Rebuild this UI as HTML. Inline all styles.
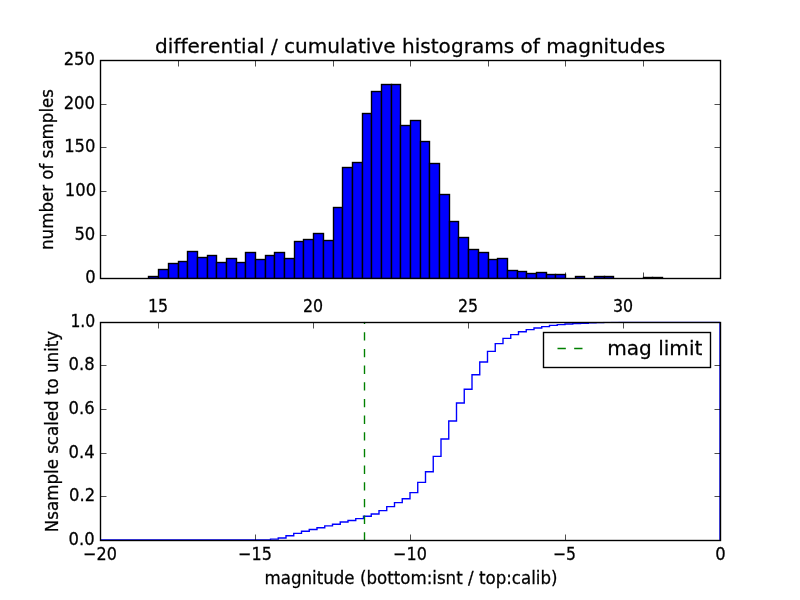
<!DOCTYPE html>
<html><head><meta charset="utf-8"><title>differential / cumulative histograms of magnitudes</title>
<style>html,body{margin:0;padding:0;background:#fff;overflow:hidden}svg{display:block}text{font-family:"DejaVu Sans","Liberation Sans",sans-serif;fill:#000;stroke:#000;stroke-width:0.25px;font-variant-ligatures:none;font-kerning:none}</style></head><body>
<svg width="800" height="600" viewBox="0 0 800 600">
<rect width="800" height="600" fill="#fff"/>
<defs><clipPath id="c1"><rect x="100" y="60" width="620" height="218.18"/></clipPath><clipPath id="c2"><rect x="100" y="321.82" width="620" height="218.18"/></clipPath></defs>
<g clip-path="url(#c1)" fill="#0000ff" stroke="#000" stroke-width="1.389" stroke-linejoin="miter">
<rect x="148.5" y="276.5" width="10.0" height="2.0"/>
<rect x="158.5" y="269.5" width="10.0" height="9.0"/>
<rect x="168.5" y="263.5" width="10.0" height="15.0"/>
<rect x="178.5" y="261.5" width="9.0" height="17.0"/>
<rect x="187.5" y="251.5" width="10.0" height="27.0"/>
<rect x="197.5" y="257.5" width="10.0" height="21.0"/>
<rect x="207.5" y="255.5" width="9.0" height="23.0"/>
<rect x="216.5" y="262.5" width="10.0" height="16.0"/>
<rect x="226.5" y="258.5" width="10.0" height="20.0"/>
<rect x="236.5" y="262.5" width="9.0" height="16.0"/>
<rect x="245.5" y="252.5" width="10.0" height="26.0"/>
<rect x="255.5" y="259.5" width="10.0" height="19.0"/>
<rect x="265.5" y="255.5" width="9.0" height="23.0"/>
<rect x="274.5" y="252.5" width="10.0" height="26.0"/>
<rect x="284.5" y="258.5" width="10.0" height="20.0"/>
<rect x="294.5" y="241.5" width="9.0" height="37.0"/>
<rect x="303.5" y="239.5" width="10.0" height="39.0"/>
<rect x="313.5" y="233.5" width="10.0" height="45.0"/>
<rect x="323.5" y="240.5" width="10.0" height="38.0"/>
<rect x="333.5" y="207.5" width="9.0" height="71.0"/>
<rect x="342.5" y="167.5" width="10.0" height="111.0"/>
<rect x="352.5" y="162.5" width="10.0" height="116.0"/>
<rect x="362.5" y="113.5" width="9.0" height="165.0"/>
<rect x="371.5" y="91.5" width="10.0" height="187.0"/>
<rect x="381.5" y="84.5" width="10.0" height="194.0"/>
<rect x="391.5" y="84.5" width="9.0" height="194.0"/>
<rect x="400.5" y="125.5" width="10.0" height="153.0"/>
<rect x="410.5" y="120.5" width="10.0" height="158.0"/>
<rect x="420.5" y="141.5" width="9.0" height="137.0"/>
<rect x="429.5" y="163.5" width="10.0" height="115.0"/>
<rect x="439.5" y="194.5" width="10.0" height="84.0"/>
<rect x="449.5" y="221.5" width="9.0" height="57.0"/>
<rect x="458.5" y="237.5" width="10.0" height="41.0"/>
<rect x="468.5" y="249.5" width="10.0" height="29.0"/>
<rect x="478.5" y="252.5" width="10.0" height="26.0"/>
<rect x="488.5" y="259.5" width="9.0" height="19.0"/>
<rect x="497.5" y="258.5" width="10.0" height="20.0"/>
<rect x="507.5" y="270.5" width="10.0" height="8.0"/>
<rect x="517.5" y="271.5" width="9.0" height="7.0"/>
<rect x="526.5" y="273.5" width="10.0" height="5.0"/>
<rect x="536.5" y="272.5" width="10.0" height="6.0"/>
<rect x="546.5" y="274.5" width="9.0" height="4.0"/>
<rect x="555.5" y="274.5" width="10.0" height="4.0"/>
<rect x="575.5" y="276.5" width="9.0" height="2.0"/>
<rect x="594.5" y="276.5" width="10.0" height="2.0"/>
<rect x="604.5" y="276.5" width="9.0" height="2.0"/>
<rect x="643.5" y="277.5" width="9.0" height="1.0"/>
<rect x="652.5" y="277.5" width="10.0" height="1.0"/>
</g>
<g stroke="#000" stroke-width="0.694">
<line x1="100.5" y1="60.5" x2="100.5" y2="66.5"/>
<line x1="100.5" y1="278.5" x2="100.5" y2="272.5"/>
<line x1="178.5" y1="60.5" x2="178.5" y2="66.5"/>
<line x1="178.5" y1="278.5" x2="178.5" y2="272.5"/>
<line x1="255.5" y1="60.5" x2="255.5" y2="66.5"/>
<line x1="255.5" y1="278.5" x2="255.5" y2="272.5"/>
<line x1="333.5" y1="60.5" x2="333.5" y2="66.5"/>
<line x1="333.5" y1="278.5" x2="333.5" y2="272.5"/>
<line x1="410.5" y1="60.5" x2="410.5" y2="66.5"/>
<line x1="410.5" y1="278.5" x2="410.5" y2="272.5"/>
<line x1="488.5" y1="60.5" x2="488.5" y2="66.5"/>
<line x1="488.5" y1="278.5" x2="488.5" y2="272.5"/>
<line x1="565.5" y1="60.5" x2="565.5" y2="66.5"/>
<line x1="565.5" y1="278.5" x2="565.5" y2="272.5"/>
<line x1="643.5" y1="60.5" x2="643.5" y2="66.5"/>
<line x1="643.5" y1="278.5" x2="643.5" y2="272.5"/>
<line x1="720.5" y1="60.5" x2="720.5" y2="66.5"/>
<line x1="720.5" y1="278.5" x2="720.5" y2="272.5"/>
<line x1="100.5" y1="278.5" x2="106.5" y2="278.5"/>
<line x1="720.5" y1="278.5" x2="714.5" y2="278.5"/>
<line x1="100.5" y1="235.5" x2="106.5" y2="235.5"/>
<line x1="720.5" y1="235.5" x2="714.5" y2="235.5"/>
<line x1="100.5" y1="191.5" x2="106.5" y2="191.5"/>
<line x1="720.5" y1="191.5" x2="714.5" y2="191.5"/>
<line x1="100.5" y1="147.5" x2="106.5" y2="147.5"/>
<line x1="720.5" y1="147.5" x2="714.5" y2="147.5"/>
<line x1="100.5" y1="104.5" x2="106.5" y2="104.5"/>
<line x1="720.5" y1="104.5" x2="714.5" y2="104.5"/>
<line x1="100.5" y1="60.5" x2="106.5" y2="60.5"/>
<line x1="720.5" y1="60.5" x2="714.5" y2="60.5"/>
</g>
<rect x="100.5" y="60.5" width="620.0" height="218.0" fill="none" stroke="#000" stroke-width="1.389"/>
<path clip-path="url(#c2)" d="M100.00 540.00 L100.00 540.00 L107.75 540.00 L107.75 540.00 L115.50 540.00 L115.50 540.00 L123.25 540.00 L123.25 540.00 L131.00 540.00 L131.00 540.00 L138.75 540.00 L138.75 540.00 L146.50 540.00 L146.50 540.00 L154.25 540.00 L154.25 540.00 L162.00 540.00 L162.00 540.00 L169.75 540.00 L169.75 540.00 L177.50 540.00 L177.50 540.00 L185.25 540.00 L185.25 540.00 L193.00 540.00 L193.00 540.00 L200.75 540.00 L200.75 540.00 L208.50 540.00 L208.50 540.00 L216.25 540.00 L216.25 540.00 L224.00 540.00 L224.00 540.00 L231.75 540.00 L231.75 540.00 L239.50 540.00 L239.50 540.00 L247.25 540.00 L247.25 540.00 L255.00 540.00 L255.00 540.00 L262.75 540.00 L262.75 540.00 L270.50 540.00 L270.50 539.10 L278.25 539.10 L278.25 537.95 L286.00 537.95 L286.00 535.80 L293.75 535.80 L293.75 533.40 L301.50 533.40 L301.50 531.30 L309.25 531.30 L309.25 529.55 L317.00 529.55 L317.00 527.70 L324.75 527.70 L324.75 525.90 L332.50 525.90 L332.50 524.25 L340.25 524.25 L340.25 522.00 L348.00 522.00 L348.00 520.50 L355.75 520.50 L355.75 518.60 L363.50 518.60 L363.50 516.20 L371.25 516.20 L371.25 514.00 L379.00 514.00 L379.00 510.60 L386.75 510.60 L386.75 506.60 L394.50 506.60 L394.50 502.60 L402.25 502.60 L402.25 498.80 L410.00 498.80 L410.00 492.60 L417.75 492.60 L417.75 482.40 L425.50 482.40 L425.50 471.70 L433.25 471.70 L433.25 456.40 L441.00 456.40 L441.00 439.00 L448.75 439.00 L448.75 421.00 L456.50 421.00 L456.50 403.00 L464.25 403.00 L464.25 389.25 L472.00 389.25 L472.00 374.75 L479.75 374.75 L479.75 362.00 L487.50 362.00 L487.50 351.40 L495.25 351.40 L495.25 343.60 L503.00 343.60 L503.00 338.40 L510.75 338.40 L510.75 334.60 L518.50 334.60 L518.50 331.80 L526.25 331.80 L526.25 329.60 L534.00 329.60 L534.00 328.00 L541.75 328.00 L541.75 326.60 L549.50 326.60 L549.50 325.40 L557.25 325.40 L557.25 324.60 L565.00 324.60 L565.00 324.00 L572.75 324.00 L572.75 323.60 L580.50 323.60 L580.50 323.20 L588.25 323.20 L588.25 322.90 L596.00 322.90 L596.00 322.60 L603.75 322.60 L603.75 322.40 L611.50 322.40 L611.50 322.20 L619.25 322.20 L619.25 321.82 L627.00 321.82 L627.00 321.82 L634.75 321.82 L634.75 321.82 L642.50 321.82 L642.50 321.82 L650.25 321.82 L650.25 321.82 L658.00 321.82 L658.00 321.82 L665.75 321.82 L665.75 321.82 L673.50 321.82 L673.50 321.82 L681.25 321.82 L681.25 321.82 L689.00 321.82 L689.00 321.82 L696.75 321.82 L696.75 321.82 L704.50 321.82 L704.50 321.82 L712.25 321.82 L712.25 321.82 L720.00 321.82 L720.00 540.00" fill="none" stroke="#0000ff" stroke-width="1.389" stroke-linejoin="miter"/>
<line clip-path="url(#c2)" x1="364.5" y1="540.6" x2="364.5" y2="321.82" stroke="#008000" stroke-width="1.389" stroke-dasharray="8.333 8.333"/>
<g stroke="#000" stroke-width="0.694">
<line x1="100.5" y1="540.5" x2="100.5" y2="534.5"/>
<line x1="255.5" y1="540.5" x2="255.5" y2="534.5"/>
<line x1="410.5" y1="540.5" x2="410.5" y2="534.5"/>
<line x1="565.5" y1="540.5" x2="565.5" y2="534.5"/>
<line x1="720.5" y1="540.5" x2="720.5" y2="534.5"/>
<line x1="158.5" y1="322.5" x2="158.5" y2="328.5"/>
<line x1="313.5" y1="322.5" x2="313.5" y2="328.5"/>
<line x1="468.5" y1="322.5" x2="468.5" y2="328.5"/>
<line x1="623.5" y1="322.5" x2="623.5" y2="328.5"/>
<line x1="100.5" y1="540.5" x2="106.5" y2="540.5"/>
<line x1="720.5" y1="540.5" x2="714.5" y2="540.5"/>
<line x1="100.5" y1="496.5" x2="106.5" y2="496.5"/>
<line x1="720.5" y1="496.5" x2="714.5" y2="496.5"/>
<line x1="100.5" y1="453.5" x2="106.5" y2="453.5"/>
<line x1="720.5" y1="453.5" x2="714.5" y2="453.5"/>
<line x1="100.5" y1="409.5" x2="106.5" y2="409.5"/>
<line x1="720.5" y1="409.5" x2="714.5" y2="409.5"/>
<line x1="100.5" y1="365.5" x2="106.5" y2="365.5"/>
<line x1="720.5" y1="365.5" x2="714.5" y2="365.5"/>
<line x1="100.5" y1="322.5" x2="106.5" y2="322.5"/>
<line x1="720.5" y1="322.5" x2="714.5" y2="322.5"/>
</g>
<rect x="100.5" y="322.5" width="620.0" height="218.0" fill="none" stroke="#000" stroke-width="1.389"/>
<rect x="543.5" y="332.5" width="167" height="35" fill="#fff" stroke="#000" stroke-width="1.389"/>
<line x1="557.5" y1="348.5" x2="582.5" y2="348.5" stroke="#008000" stroke-width="1.389" stroke-dasharray="8.333 8.333"/>
<text transform="translate(607.2,355.1) scale(1.004,1.0)" font-size="20" text-anchor="start">mag limit</text>
<text transform="translate(410.2,53.0) scale(1.004,1.0)" font-size="20" text-anchor="middle">differential / cumulative histograms of magnitudes</text>
<text transform="translate(95.6,282.7) scale(0.985,1.08)" font-size="16.667" text-anchor="end">0</text>
<text transform="translate(95.3,239.7) scale(0.985,1.08)" font-size="16.667" text-anchor="end">50</text>
<text transform="translate(96.1,195.7) scale(0.985,1.08)" font-size="16.667" text-anchor="end">100</text>
<text transform="translate(95.5,151.7) scale(0.985,1.08)" font-size="16.667" text-anchor="end">150</text>
<text transform="translate(95.0,108.7) scale(0.985,1.08)" font-size="16.667" text-anchor="end">200</text>
<text transform="translate(95.0,64.7) scale(0.985,1.08)" font-size="16.667" text-anchor="end">250</text>
<text transform="translate(94.6,544.7) scale(0.985,1.08)" font-size="16.667" text-anchor="end">0.0</text>
<text transform="translate(95.2,500.7) scale(0.985,1.08)" font-size="16.667" text-anchor="end">0.2</text>
<text transform="translate(94.6,457.7) scale(0.985,1.08)" font-size="16.667" text-anchor="end">0.4</text>
<text transform="translate(94.6,413.7) scale(0.985,1.08)" font-size="16.667" text-anchor="end">0.6</text>
<text transform="translate(94.6,369.7) scale(0.985,1.08)" font-size="16.667" text-anchor="end">0.8</text>
<text transform="translate(95.3,326.7) scale(0.94,1.08)" font-size="16.667" text-anchor="end">1.0</text>
<text transform="translate(100.0,560) scale(0.962,1.08)" font-size="16.667" text-anchor="middle">−20</text>
<text transform="translate(255.0,560) scale(0.962,1.08)" font-size="16.667" text-anchor="middle">−15</text>
<text transform="translate(410.0,560) scale(0.962,1.08)" font-size="16.667" text-anchor="middle">−10</text>
<text transform="translate(564.5,560) scale(0.94,1.08)" font-size="16.667" text-anchor="middle">−5</text>
<text transform="translate(720.5,560) scale(0.985,1.08)" font-size="16.667" text-anchor="middle">0</text>
<text transform="translate(158.0,312) scale(0.95,1.08)" font-size="16.667" text-anchor="middle">15</text>
<text transform="translate(313.0,312) scale(0.95,1.08)" font-size="16.667" text-anchor="middle">20</text>
<text transform="translate(468.0,312) scale(0.95,1.08)" font-size="16.667" text-anchor="middle">25</text>
<text transform="translate(623.0,312) scale(0.95,1.08)" font-size="16.667" text-anchor="middle">30</text>
<text transform="translate(411,583.5) scale(1.0,1.1)" font-size="16.667" text-anchor="middle">magnitude (bottom:isnt / top:calib)</text>
<text transform="translate(53.2,169.5) rotate(-90) scale(1.0,1.1)" font-size="16.667" text-anchor="middle">number of samples</text>
<text transform="translate(58.2,431.5) rotate(-90) scale(1.0,1.1)" font-size="16.667" text-anchor="middle">Nsample scaled to unity</text>
</svg></body></html>
